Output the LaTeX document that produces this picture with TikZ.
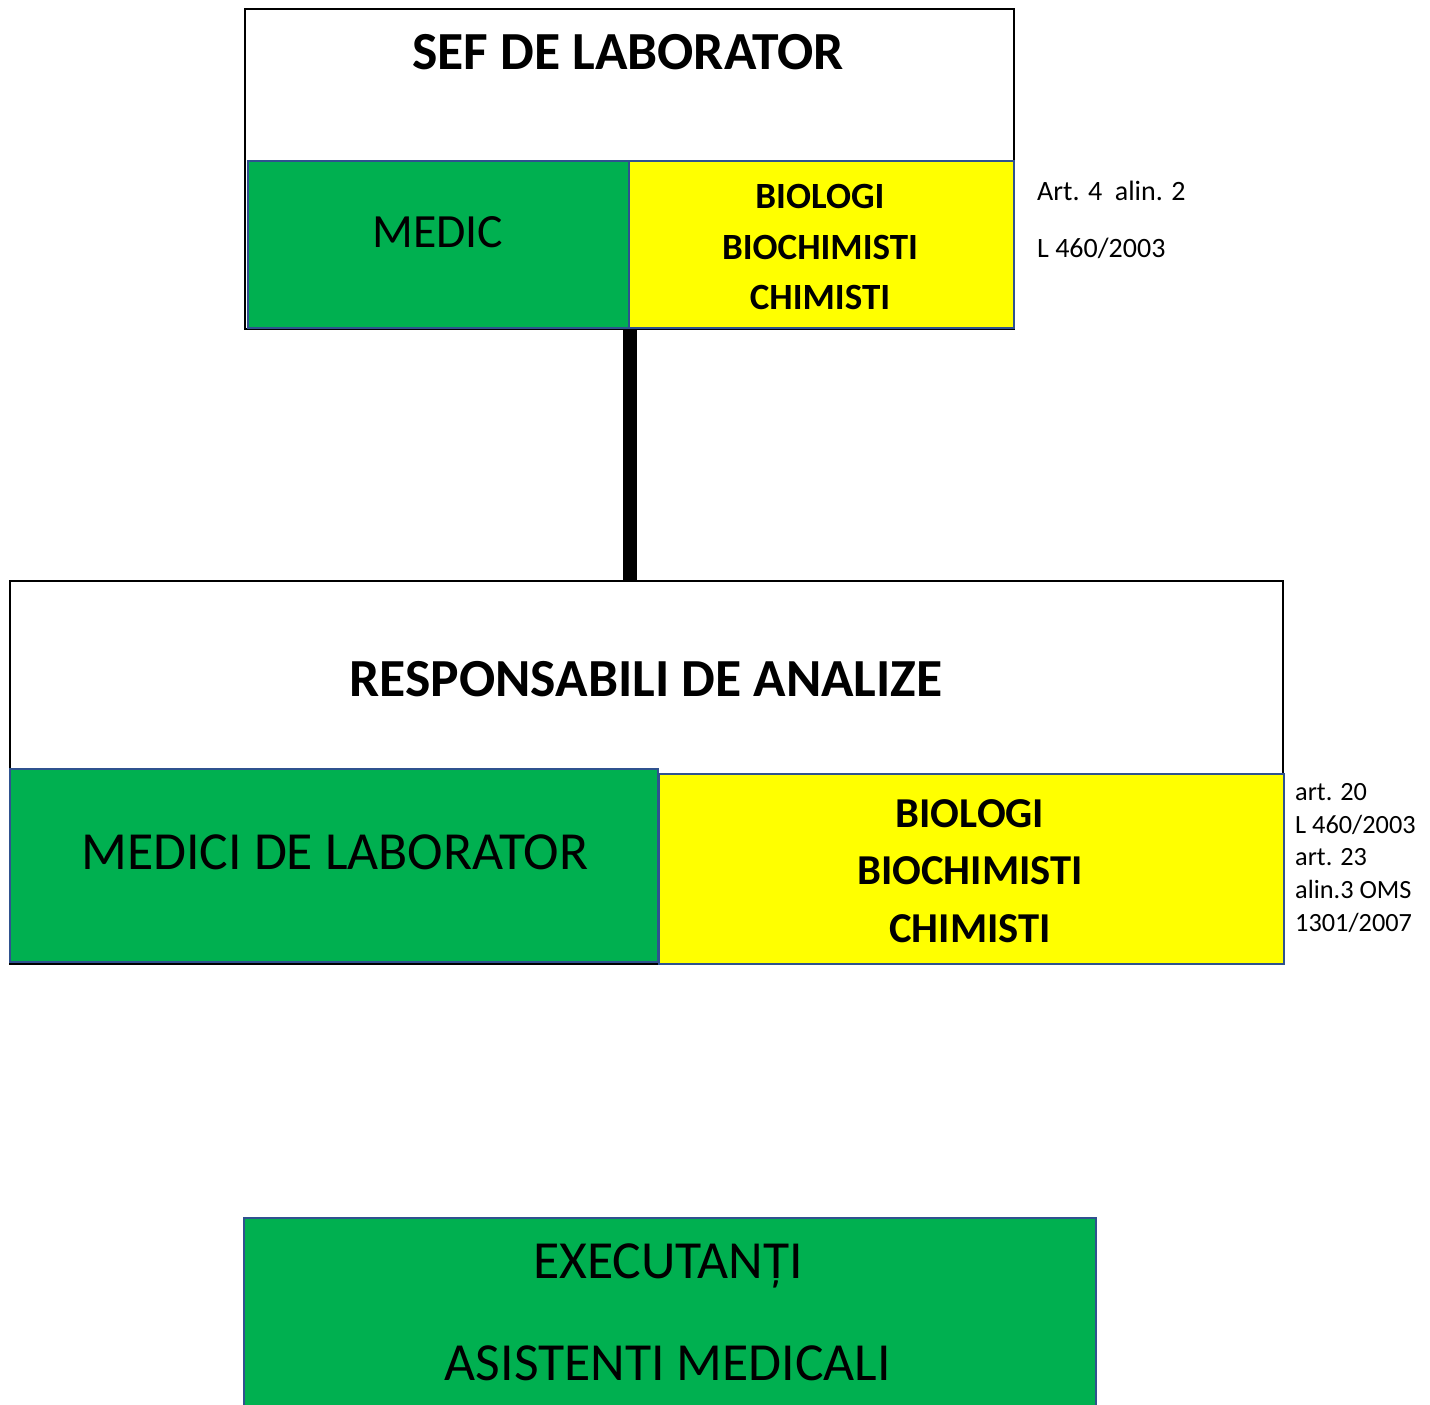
\documentclass[tikz,border=0pt]{standalone}
\usepackage{fontspec}
\setmainfont{Carlito}
\usetikzlibrary{positioning}
\definecolor{labgreen}{HTML}{00B050}
\definecolor{labyellow}{HTML}{FFFF00}
\definecolor{edgeblue}{HTML}{2F528F}
\newcommand{\fsz}[2]{\fontsize{#1}{#2}\selectfont}

\begin{document}
\begin{tikzpicture}[
x=1pt, y=-1pt,
OuterBox/.style={draw=black,line width=2pt,fill=white,inner sep=0pt,anchor=north west},
GreenBox/.style={draw=edgeblue,line width=2pt,fill=labgreen,inner sep=0pt,anchor=north west},
YellowBox/.style={draw=edgeblue,line width=2pt,fill=labyellow,inner sep=0pt,anchor=north west},
Connector/.style={draw=black,line width=14pt},
TitleText/.style={font=\fsz{53.6}{60}\bfseries,inner sep=0pt},
BigText/.style={font=\fsz{53.6}{60},inner sep=0pt},
Note/.style={align=left,anchor=north west,inner sep=0pt}
]
\useasboundingbox (0,0) rectangle (1430,1405);
\clip (0,0) rectangle (1430,1405);

% top block
\node[OuterBox, minimum width=769pt, minimum height=320pt] (sef) at (244,8) {};
\node[GreenBox, minimum width=381pt, minimum height=167pt] (medic) at (247,160) {};
\node[YellowBox, minimum width=385pt, minimum height=167pt] (bio1) at (628,160) {};

% middle block
\node[OuterBox, minimum width=1273pt, minimum height=383pt] (resp) at (9,580) {};
\node[GreenBox, minimum width=648pt, minimum height=193pt] (medici) at (9,768) {};
\node[YellowBox, minimum width=625pt, minimum height=190pt] (bio2) at (658,773) {};

% bottom block
\node[GreenBox, minimum width=852pt, minimum height=200pt] (exec) at (243,1217) {};

% link
\draw[Connector] (medic.south east) -- (resp.north -| medic.south east);

% texts
\node[TitleText] (sefT) at (628,52) {SEF DE LABORATOR};
\node[font=\fsz{47.7}{55},inner sep=0pt] (medicT) at (438,232) {MEDIC};
\node[font=\fsz{37}{50.5}\bfseries,inner sep=0pt,align=center] (bio1T) at (820,247)
  {BIOLOGI\\BIOCHIMISTI\\CHIMISTI};

\node[TitleText] (respT) at (646,679) {RESPONSABILI DE ANALIZE};
\node[BigText] (mediciT) at (335,852) {MEDICI DE LABORATOR};
\node[font=\fsz{42.6}{57.5}\bfseries,inner sep=0pt,align=center] (bio2T) at (970,871)
  {BIOLOGI\\BIOCHIMISTI\\CHIMISTI};

\node[BigText] (execT) at (668,1266) {EXECUTANȚI};
\node[BigText] (asistT) at (668,1363) {ASISTENTI MEDICALI};

% legal notes
\node[Note, font=\fsz{28}{57}] (lawA) at (1037,181)
  {Art. 4\ \ alin. 2\\L 460/2003};
\node[Note, font=\fsz{26.3}{32.8}] (lawB) at (1295,783)
  {art. 20\\L 460/2003\\art. 23\\alin.3 OMS\\1301/2007};

\end{tikzpicture}
\end{document}
